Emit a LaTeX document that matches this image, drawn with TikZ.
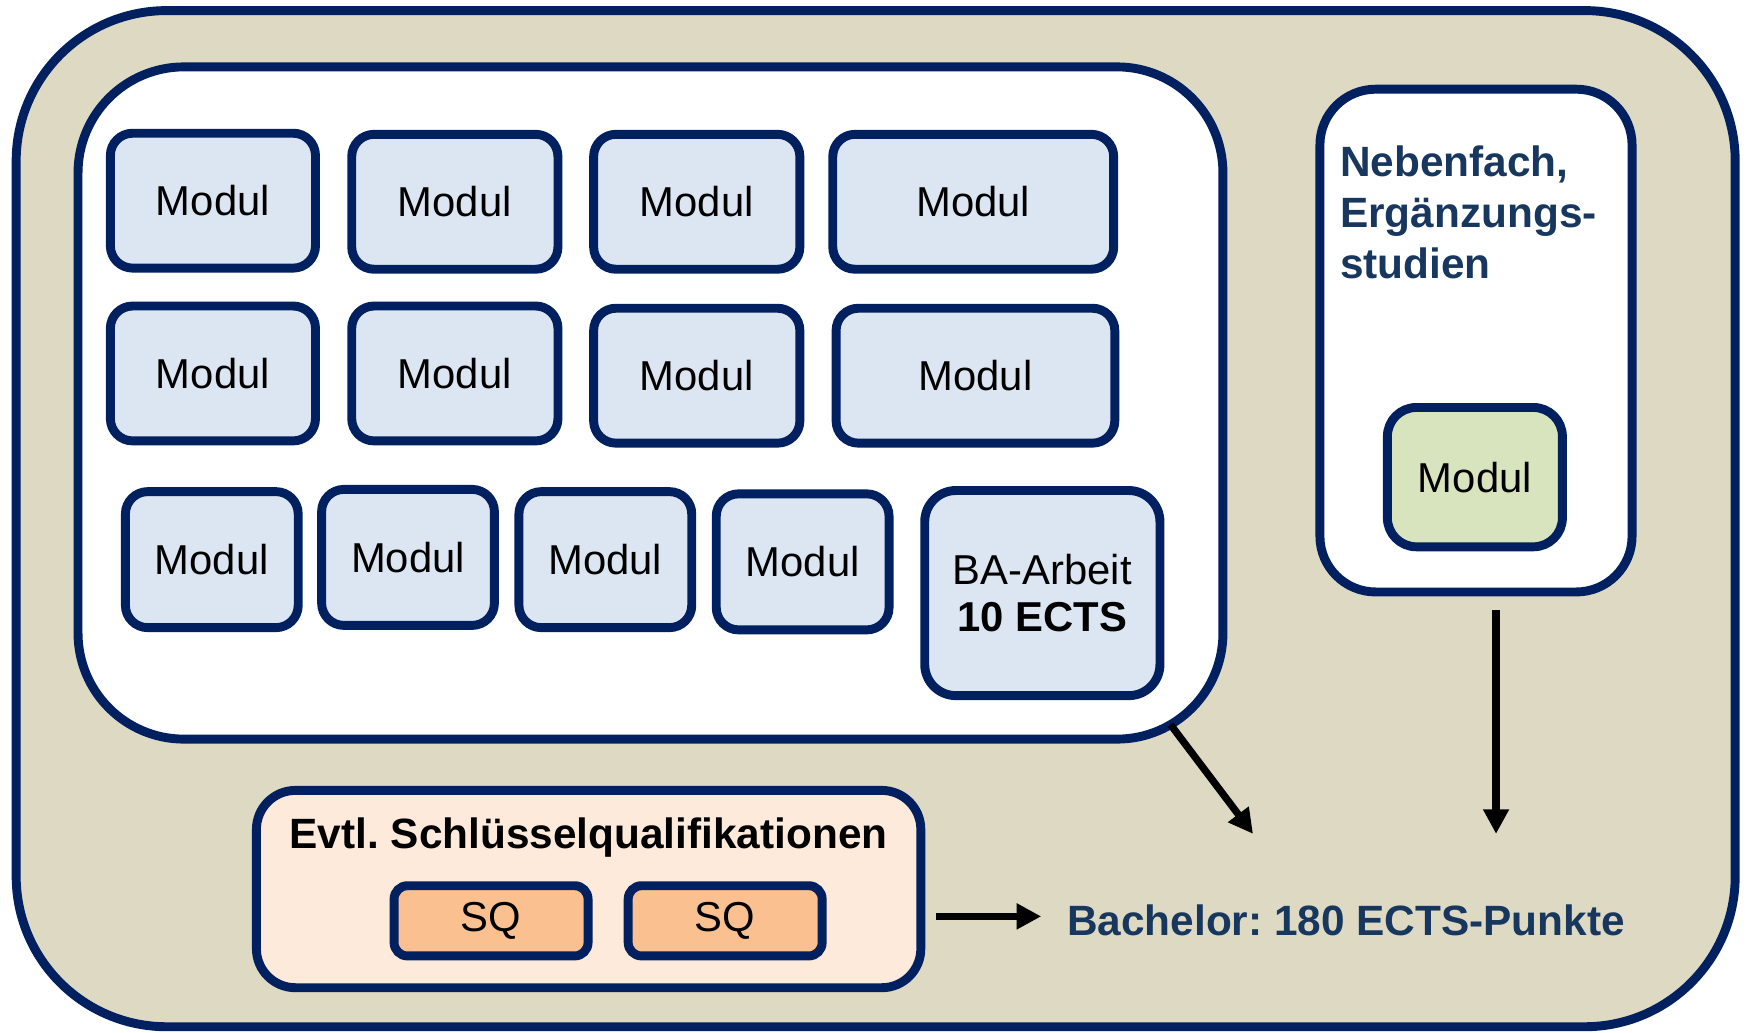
\documentclass[tikz,border=0pt]{standalone}
\usepackage{fontspec}
\setmainfont{Liberation Sans}
\usetikzlibrary{arrows.meta}
\definecolor{navy}{HTML}{002060}
\definecolor{beige}{HTML}{DDD9C3}
\definecolor{modfill}{HTML}{DCE6F2}
\definecolor{greenfill}{HTML}{D7E4BD}
\definecolor{sqfill}{HTML}{FAC090}
\definecolor{evtlfill}{HTML}{FDEADA}
\definecolor{textblue}{HTML}{17375E}
\frenchspacing
\begin{document}
\begin{tikzpicture}[x=1pt,y=-1pt,
  box/.style={draw=navy, line width=8pt, rounded corners=20pt, inner sep=0pt,
    font=\fontsize{37.5}{45}\selectfont, align=center},
  modul/.style={box, fill=modfill, minimum height=121pt},
  container/.style={draw=navy, line width=8pt},
  arr/.style={draw=black, line width=6.5pt, -{Triangle[length=22pt,width=22pt]}},
  lbl/.style={font=\fontsize{38}{46}\selectfont\bfseries, text=textblue, inner sep=0pt}
]
\useasboundingbox (0,0) rectangle (1568,926);
% outer container
\path[container, fill=beige, rounded corners=135pt] (14.5,9.5) rectangle (1556.5,921);
% main white box
\path[container, fill=white, rounded corners=95pt] (70,60) rectangle (1097,663);
% Nebenfach box
\path[container, fill=white, rounded corners=50pt] (1184,80) rectangle (1464,531);
% Evtl box
\path[container, fill=evtlfill, rounded corners=35pt] (230,709) rectangle (826,886);

% row 1
\node[modul, minimum width=184pt] (m1) at (191,180) {Modul};
\node[modul, minimum width=185pt] (m2) at (408,181) {Modul};
\node[modul, minimum width=185pt] (m3) at (625,181) {Modul};
\node[modul, minimum width=252pt] (m4) at (873,181) {Modul};
% row 2
\node[modul, minimum width=184pt] (m5) at (191,335) {Modul};
\node[modul, minimum width=185pt] (m6) at (408,335) {Modul};
\node[modul, minimum width=185pt] (m7) at (625,337) {Modul};
\node[modul, minimum width=250pt] (m8) at (875,337) {Modul};
% row 3
\node[modul, minimum width=155pt, minimum height=122pt] (m9) at (190,502) {Modul};
\node[modul, minimum width=155pt, minimum height=122pt] (m10) at (366,500) {Modul};
\node[modul, minimum width=155pt, minimum height=122pt] (m11) at (543,502) {Modul};
\node[modul, minimum width=155pt, minimum height=122pt] (m12) at (720,504) {Modul};
\node[box, fill=modfill, rounded corners=28pt, minimum width=211pt, minimum height=184pt] (ba) at (935,532)
  {BA-Arbeit\\[-2pt]\textbf{10 ECTS}};

% Nebenfach
\node[lbl, anchor=base west, align=left] (neben) at (1202,250)
  {Nebenfach,\\Ergänzungs-\\studien};
\node[box, fill=greenfill, rounded corners=26pt, minimum width=157pt, minimum height=125pt] (gm) at (1323,428) {Modul};

% Evtl
\node[font=\fontsize{38}{45}\selectfont\bfseries, inner sep=0pt] (evtl) at (528,751) {Evtl. Schlüsselqualifikationen};
\node[box, fill=sqfill, rounded corners=12pt, minimum width=174pt, minimum height=63pt] (sq1) at (440.5,826) {SQ};
\node[box, fill=sqfill, rounded corners=12pt, minimum width=174pt, minimum height=63pt] (sq2) at (650.5,826) {SQ};

% Bachelor
\node[lbl, anchor=west] (bach) at (957,826) {Bachelor: 180 ECTS-Punkte};

% arrows
\coordinate (d1) at (1050,650);
\coordinate (d2) at (1124,748);
\coordinate (v1) at (1342,547);
\coordinate (v2) at (1342,748);
\coordinate (h1) at (840,822);
\coordinate (h2) at (934,822);
\draw[arr] (d1) -- (d2);
\draw[arr] (v1) -- (v2);
\draw[arr] (h1) -- (h2);
\end{tikzpicture}
\end{document}
